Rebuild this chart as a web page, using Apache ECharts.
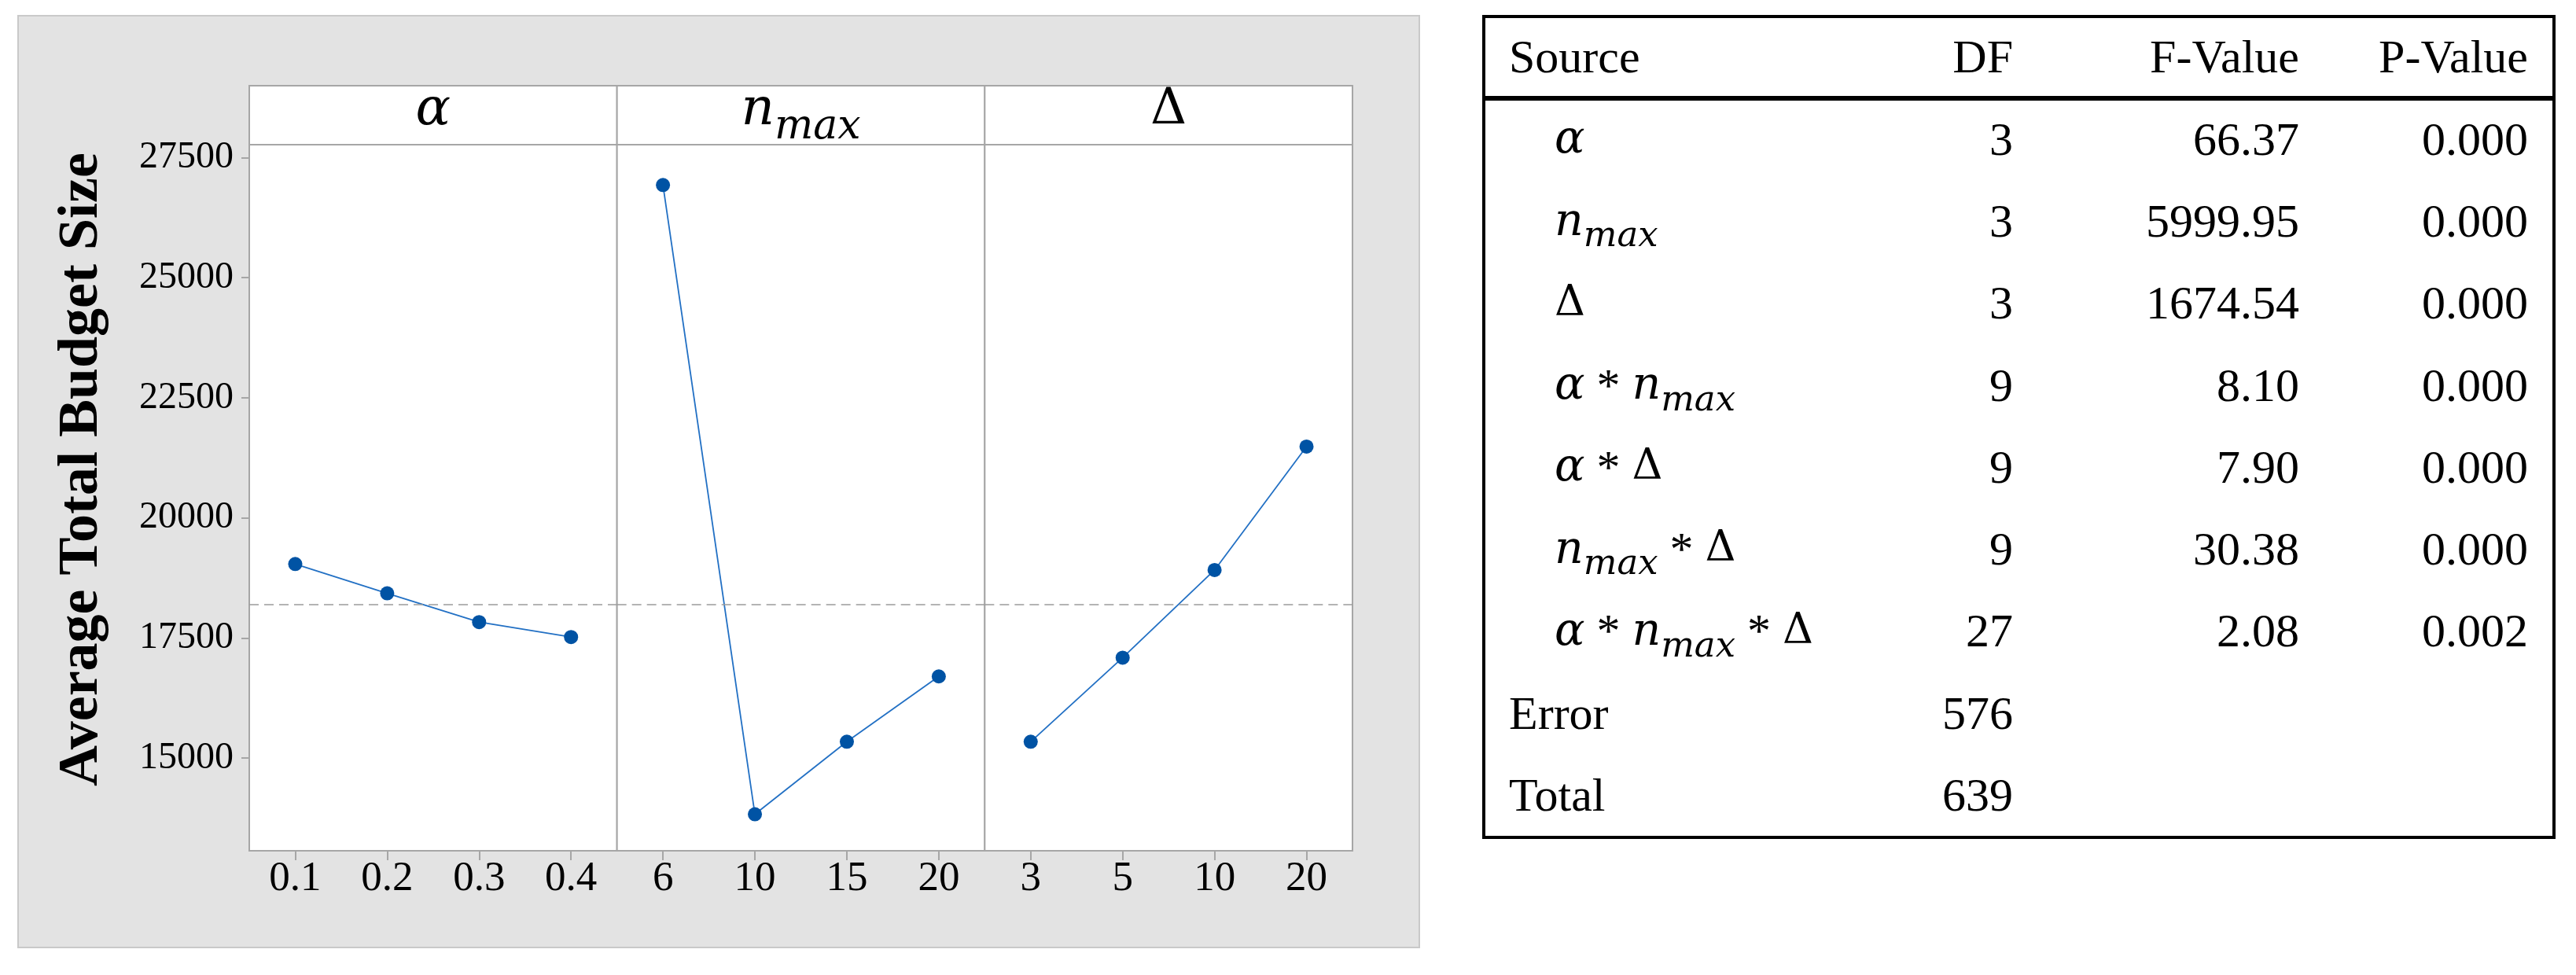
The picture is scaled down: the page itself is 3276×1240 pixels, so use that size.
<!DOCTYPE html>
<html><head><meta charset="utf-8">
<script src="https://cdn.jsdelivr.net/npm/echarts@6/dist/echarts.min.js"></script>
<style>html,body{margin:0;padding:0;background:#fff;}#c{width:3276px;height:1240px;}</style>
</head><body><div id="c"></div>
<script>
// ---------- data ----------
const alphaLevels = ['0.1', '0.2', '0.3', '0.4'];
const nmaxLevels = ['6', '10', '15', '20'];
const deltaLevels = ['3', '5', '10', '20'];
const alphaMeans = [19040, 18430, 17830, 17520];
const nmaxMeans = [26930, 13830, 15340, 16700];
const deltaMeans = [15340, 17090, 18915, 21485];
const grandMean = 18205;
const yTicks = [15000, 17500, 20000, 22500, 25000, 27500];
const yTitle = 'Average Total Budget Size';

const tableHeader = ['Source', 'DF', 'F-Value', 'P-Value'];
const sourceLabels = [
  '{i|α}', '{i|n}{s|max}', '{m|Δ}', '{i|α}{r| * }{i|n}{s|max}', '{i|α}{r| * }{m|Δ}',
  '{i|n}{s|max}{r| * }{m|Δ}', '{i|α}{r| * }{i|n}{s|max}{r| * }{m|Δ}', '{r|Error}', '{r|Total}'
];
const sourceIndented = [true, true, true, true, true, true, true, false, false];
const dfValues = ['3', '3', '3', '9', '9', '9', '27', '576', '639'];
const fValues = ['66.37', '5999.95', '1674.54', '8.10', '7.90', '30.38', '2.08', '', ''];
const pValues = ['0.000', '0.000', '0.000', '0.000', '0.000', '0.000', '0.002', '', ''];

// ---------- layout ----------
const FONT = '"Liberation Serif", "Times New Roman", serif';
const MATH = '"DejaVu Serif", serif';
const panelLeft = 317, panelW = 467.67, plotTop = 184, plotBottom = 1082, headTop = 109;
const yMin = 13070, yMax = 27770;
const panels = [
  { levels: alphaLevels, means: alphaMeans, head: '{i|α}' },
  { levels: nmaxLevels, means: nmaxMeans, head: '{i|n}{s|max}' },
  { levels: deltaLevels, means: deltaMeans, head: '{m|Δ}' }
];

const grids = [], xAxes = [], yAxes = [], series = [], graphics = [];

graphics.push({ type: 'rect', z: -10, shape: { x: 23, y: 20, width: 1782, height: 1185 },
  style: { fill: '#e3e3e3', stroke: '#c9c9c9', lineWidth: 2 } });

graphics.push({ type: 'text', z: 5, x: 104, y: 597, rotation: Math.PI / 2,
  style: { text: yTitle, font: 'bold 72px ' + FONT, fill: '#000', align: 'center', verticalAlign: 'middle' } });

const headRich = {
  i: { fontFamily: MATH, fontStyle: 'italic', fontSize: 66, lineHeight: 66, verticalAlign: 'top', fill: '#000' },
  m: { fontFamily: MATH, fontSize: 64, lineHeight: 66, verticalAlign: 'top', fill: '#000' },
  s: { fontFamily: MATH, fontStyle: 'italic', fontSize: 52, lineHeight: 52, verticalAlign: 'top', padding: [28, 0, 0, 0], fill: '#000' }
};

panels.forEach((p, i) => {
  const left = panelLeft + i * panelW;
  grids.push({ left: left, top: plotTop, width: panelW, height: plotBottom - plotTop,
    show: true, backgroundColor: '#fff', borderColor: '#a6a6a6', borderWidth: 2 });
  xAxes.push({ type: 'category', gridIndex: i, data: p.levels, boundaryGap: true,
    axisLine: { show: true, lineStyle: { color: '#a6a6a6', width: 2 } },
    axisTick: { show: true, alignWithLabel: true, length: 12, lineStyle: { color: '#a6a6a6', width: 2 } },
    axisLabel: { color: '#000', fontFamily: FONT, fontSize: 53, margin: 10 },
    splitLine: { show: false } });
  yAxes.push({ type: 'value', gridIndex: i, min: yMin, max: yMax,
    axisLine: { show: i === 0, lineStyle: { color: '#a6a6a6', width: 2 } },
    axisTick: { show: i === 0, length: 10, customValues: yTicks, lineStyle: { color: '#a6a6a6', width: 2 } },
    axisLabel: { show: i === 0, customValues: yTicks, color: '#000', fontFamily: FONT, fontSize: 48, margin: 20,
      formatter: v => String(v) },
    splitLine: { show: false } });
  series.push({ type: 'line', xAxisIndex: i, yAxisIndex: i, data: p.means,
    symbol: 'circle', symbolSize: 18, silent: true,
    lineStyle: { color: '#2270c4', width: 1.8 }, itemStyle: { color: '#0053a4' },
    markLine: { silent: true, symbol: ['none', 'none'], label: { show: false },
      lineStyle: { color: '#9c9c9c', type: [12, 7], width: 1.6 },
      data: [{ yAxis: grandMean }] } });
  // header strip
  graphics.push({ type: 'rect', z: 5, shape: { x: left, y: headTop, width: panelW, height: plotTop - headTop },
    style: { fill: '#fff', stroke: '#a6a6a6', lineWidth: 2 } });
  graphics.push({ type: 'text', z: 6, x: left + panelW / 2, y: 108,
    style: { text: p.head, align: 'center', verticalAlign: 'top', rich: headRich } });
});

// ---------- table ----------
const tX0 = 1887, tY0 = 21, tX1 = 3248, tY1 = 1065, sepY = 125;
const srcX = 1919, indentX = 1977, dfRight = 2560, fRight = 2924, pRight = 3215;
const headY = 76, rowY0 = 181, rowStep = 104.25, TFS = 60;
graphics.push({ type: 'rect', z: 5, shape: { x: tX0, y: tY0, width: tX1 - tX0, height: tY1 - tY0 },
  style: { fill: '#fff', stroke: '#000', lineWidth: 4 } });
graphics.push({ type: 'line', z: 6, shape: { x1: tX0, y1: sepY, x2: tX1, y2: sepY },
  style: { stroke: '#000', lineWidth: 6 } });
const colRights = [null, dfRight, fRight, pRight];
tableHeader.forEach((h, j) => {
  graphics.push({ type: 'text', z: 6, x: j === 0 ? srcX : colRights[j], y: headY,
    style: { text: h, font: TFS + 'px ' + FONT, fill: '#000', align: j === 0 ? 'left' : 'right', verticalAlign: 'middle' } });
});
const tableRich = {
  i: { fontFamily: MATH, fontStyle: 'italic', fontSize: 57, lineHeight: TFS, verticalAlign: 'top', fill: '#000' },
  m: { fontFamily: MATH, fontSize: 54, lineHeight: TFS, verticalAlign: 'top', fill: '#000' },
  r: { fontFamily: FONT, fontSize: TFS, lineHeight: TFS, verticalAlign: 'top', fill: '#000' },
  s: { fontFamily: MATH, fontStyle: 'italic', fontSize: 45, lineHeight: 45, verticalAlign: 'top', padding: [24, 0, 0, 0], fill: '#000' }
};
sourceLabels.forEach((lab, r) => {
  const y = rowY0 + r * rowStep;
  graphics.push({ type: 'text', z: 6, x: sourceIndented[r] ? indentX : srcX, y: y - TFS / 2,
    style: { text: lab, align: 'left', verticalAlign: 'top', rich: tableRich } });
  [dfValues[r], fValues[r], pValues[r]].forEach((v, j) => {
    if (!v) return;
    graphics.push({ type: 'text', z: 6, x: colRights[j + 1], y: y,
      style: { text: v, font: TFS + 'px ' + FONT, fill: '#000', align: 'right', verticalAlign: 'middle' } });
  });
});

const chart = echarts.init(document.getElementById('c'), null, { renderer: 'canvas' });
chart.setOption({
  animation: false,
  backgroundColor: '#fff',
  grid: grids, xAxis: xAxes, yAxis: yAxes, series: series,
  graphic: { elements: graphics }
});
</script></body></html>
